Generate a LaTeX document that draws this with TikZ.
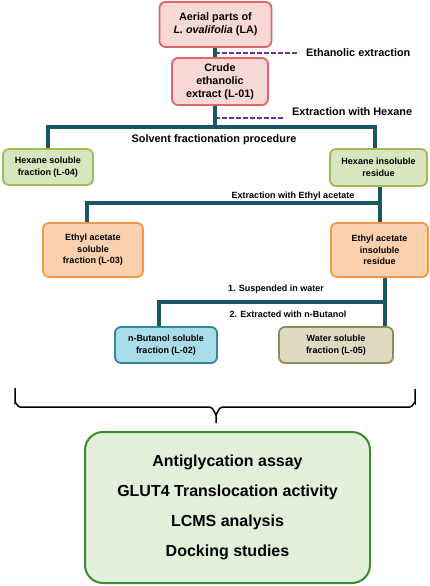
\documentclass[tikz,border=0pt]{standalone}
\usepackage{fontspec}
\setmainfont{Liberation Sans}
\definecolor{redb}{HTML}{E06666}
\definecolor{redf}{HTML}{F8D7D7}
\definecolor{grnb}{HTML}{9BBB59}
\definecolor{grnf}{HTML}{D8E6C0}
\definecolor{orab}{HTML}{F79646}
\definecolor{oraf}{HTML}{FBD0AE}
\definecolor{blub}{HTML}{31859C}
\definecolor{bluf}{HTML}{A8DCE8}
\definecolor{tanb}{HTML}{948A54}
\definecolor{tanf}{HTML}{DDD9C3}
\definecolor{finb}{HTML}{3A8C2E}
\definecolor{finf}{HTML}{E2F0D9}
\definecolor{conn}{HTML}{1B5565}
\definecolor{purp}{HTML}{7030A0}
\tikzset{
  box/.style={draw, line width=1.8pt, rounded corners=6pt, align=center, inner sep=1pt, font=\bfseries\fontsize{9}{11.5}\selectfont},
  bigbox/.style={box, font=\bfseries\fontsize{10.8}{13}\selectfont},
  conline/.style={draw=conn, line width=3.2pt},
  dashline/.style={draw=purp, line width=2pt, dash pattern=on 5pt off 2pt},
  lbl/.style={font=\bfseries\fontsize{10.9}{12}\selectfont, inner sep=0pt},
  slbl/.style={font=\bfseries\fontsize{9}{10}\selectfont, inner sep=0pt},
}
\begin{document}
\begin{tikzpicture}[x=1pt,y=-1pt]
\useasboundingbox (0,0) rectangle (429,586);
% nodes
\node[bigbox, draw=redb, fill=redf, minimum width=112pt, minimum height=45pt] (LA) at (215.5,24.5) {Aerial parts of\\\textit{L. ovalifolia} (LA)};
\node[bigbox, draw=redb, fill=redf, minimum width=96pt, minimum height=47pt] (L01) at (220,81.5) {Crude\\ethanolic\\extract (L-01)};
\node[box, draw=grnb, fill=grnf, minimum width=90pt, minimum height=36pt] (HS) at (48,167) {Hexane soluble\\fraction (L-04)};
\node[box, draw=grnb, fill=grnf, minimum width=97pt, minimum height=37pt] (HI) at (378.5,167.5) {Hexane insoluble\\residue};
\node[box, draw=orab, fill=oraf, minimum width=100pt, minimum height=54pt] (EAS) at (93,250) {Ethyl acetate\\soluble\\fraction (L-03)};
\node[box, draw=orab, fill=oraf, minimum width=97pt, minimum height=54pt] (EAI) at (379.5,250) {Ethyl acetate\\insoluble\\residue};
\node[box, draw=blub, fill=bluf, minimum width=102pt, minimum height=36pt] (NB) at (166,345) {n-Butanol soluble\\fraction (L-02)};
\node[box, draw=tanb, fill=tanf, minimum width=114pt, minimum height=36pt] (W) at (336,345) {Water soluble\\fraction (L-05)};
\node[draw=finb, fill=finf, line width=2pt, rounded corners=18pt, minimum width=285pt, minimum height=151pt, align=center, font=\bfseries\fontsize{16}{30}\selectfont] (F) at (227.5,507.5) {Antiglycation assay\\GLUT4 Translocation activity\\LCMS analysis\\Docking studies};
% coordinates
\coordinate (b1) at (215,127);
\coordinate (bL) at (48,127);
\coordinate (bR) at (375,127);
\coordinate (e1) at (380,203);
\coordinate (eL) at (87,203);
\coordinate (w1) at (385,302);
\coordinate (wL) at (159,302);
\coordinate (d1) at (215,53);
\coordinate (d1e) at (297,53);
\coordinate (d2) at (215,118);
\coordinate (d2e) at (283,118);
% connectors
\draw[dashline] (d1) -- (d1e);
\draw[dashline] (d2) -- (d2e);
\draw[conline] (LA.south -| d1) -- (L01.north -| d1);
\draw[conline] (L01.south -| b1) -- (b1);
\draw[conline] (HS.north) -- (bL) -- (bR) -- (HI.north -| bR);
\draw[conline] (HI.south -| e1) -- (e1) -- (eL) -- (EAS.north -| eL);
\draw[conline] (e1) -- (EAI.north -| e1);
\draw[conline] (EAI.south -| w1) -- (w1) -- (wL) -- (NB.north -| wL);
\draw[conline] (w1) -- (W.north -| w1);
% labels
\node[lbl, anchor=west] (t1) at (306,53) {Ethanolic extraction};
\node[lbl, anchor=west] (t2) at (292,112) {Extraction with Hexane};
\node[lbl] (t3) at (214,140) {Solvent fractionation procedure};
\node[slbl] (t4) at (293,196) {Extraction with Ethyl acetate};
\node[slbl] (t5) at (276,289) {1. Suspended in water};
\node[slbl] (t6) at (288,314) {2. Extracted with n-Butanol};
% brace
\draw[line width=1.5pt] (15,388) -- (15,403) to[out=90,in=180] (20,407) -- (210,407) to[out=0,in=-90] (216,414) -- (216,423);
\draw[line width=1.5pt] (216,414) to[out=-90,in=180] (222,407) -- (410,407) to[out=0,in=90] (415,403) -- (415,389);
\end{tikzpicture}
\end{document}
